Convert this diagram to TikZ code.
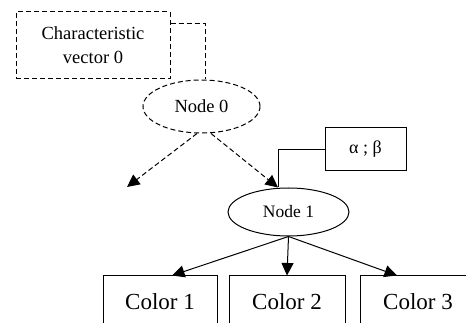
\documentclass[tikz,border=0pt]{standalone}
\usepackage{fontspec}
\setmainfont{Liberation Serif}
\usetikzlibrary{shapes.geometric, arrows.meta}
\tikzset{
  box/.style={draw, rectangle, inner sep=0pt, align=center},
  oval/.style={draw, ellipse, inner sep=0pt},
  dashfive/.style={dash pattern=on 5pt off 3pt},
  arrowtip/.style={-{Triangle[length=12.5pt, width=12pt]}}
}

\begin{document}
\begin{tikzpicture}[x=1pt, y=-1pt, line width=1pt]
  \useasboundingbox (0, 0) rectangle (466, 323);
  \clip (0, 0) rectangle (466, 323);

  \node[box, dashfive, minimum width=154pt, minimum height=67pt,
        font=\fontsize{18.5}{24}\selectfont] (charvec) at (93, 45.5) {Characteristic\\vector 0};
  \node[oval, dashfive, minimum width=117pt, minimum height=53pt,
        font=\fontsize{18.5}{22}\selectfont] (node0) at (201.5, 106.5) {Node 0};
  \node[oval, minimum width=121pt, minimum height=48pt,
        font=\fontsize{17.5}{21}\selectfont] (node1) at (288.5, 212) {Node 1};
  \node[box, minimum width=81pt, minimum height=43pt,
        font=\fontsize{18}{22}\selectfont] (ab) at (365.5, 149.5) {α ; β};

  \node[box, minimum width=114pt, minimum height=52pt,
        font=\fontsize{23}{27}\selectfont] (color1) at (160, 302) {Color 1};
  \node[box, minimum width=116pt, minimum height=52pt,
        font=\fontsize{23}{27}\selectfont] (color2) at (287, 302) {Color 2};
  \node[box, minimum width=116pt, minimum height=52pt,
        font=\fontsize{23}{27}\selectfont] (color3) at (418, 302) {Color 3};

  \coordinate (lostend) at (127, 187);
  \coordinate (n1top) at ([xshift=-10.5pt]node1.north);

  % dashed part
  \draw[dashfive] ([yshift=-12.5pt]charvec.north east) -| ([xshift=3.5pt]node0.north);
  \draw[dashfive, arrowtip] ([xshift=-4.5pt]node0.south) -- (lostend);
  \draw[dashfive, arrowtip] ([xshift=9.5pt]node0.south) -- (n1top);

  % solid part
  \draw (ab.west) -| (n1top);
  \draw[arrowtip] (node1.south) -- ([xshift=12pt]color1.north);
  \draw[arrowtip] (node1.south) -- (color2.north);
  \draw[arrowtip] (node1.south) -- ([xshift=-21pt]color3.north);
\end{tikzpicture}
\end{document}
